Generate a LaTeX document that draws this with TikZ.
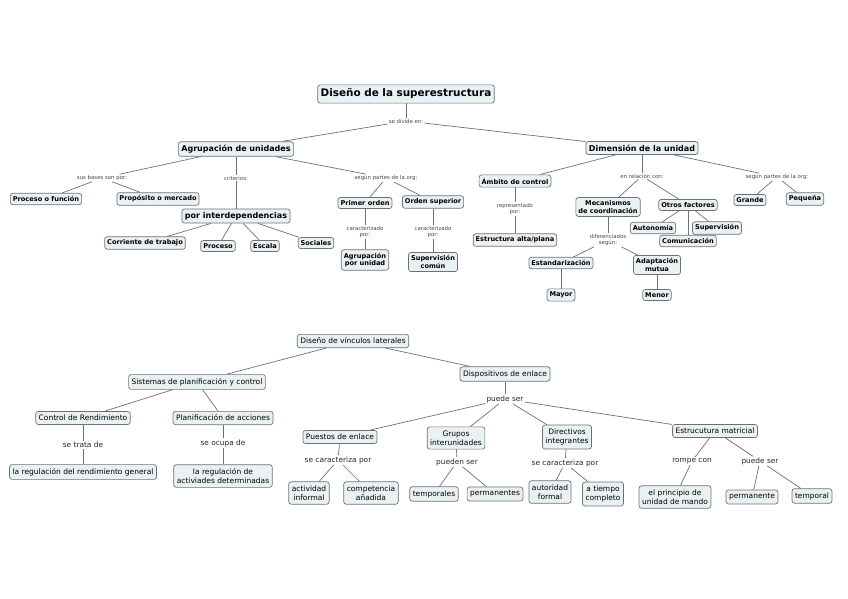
\documentclass[tikz,border=0pt]{standalone}
\usepackage{fontspec}
\setmainfont{DejaVu Sans}
\definecolor{boxfill}{RGB}{234,241,244}
\definecolor{boxline}{RGB}{112,112,112}
\definecolor{linktext}{RGB}{70,70,70}
\begin{document}
\begin{tikzpicture}[
    x=1pt, y=-1pt,
    concept/.style={draw=boxline, fill=boxfill, rounded corners=2.5pt, line width=0.7pt, align=center, inner xsep=3pt},
    title/.style={concept, font=\bfseries\fontsize{10.4}{11.5}\selectfont, inner ysep=4pt},
    topic/.style={concept, font=\bfseries\fontsize{8}{9.4}\selectfont, inner ysep=3.2pt},
    leaf/.style={concept, font=\bfseries\fontsize{6.6}{7.8}\selectfont, inner ysep=3pt, inner xsep=2.5pt},
    plain/.style={concept, font=\fontsize{7.5}{9.4}\selectfont, inner ysep=3.6pt},
    link/.style={font=\fontsize{5.4}{6.2}\selectfont, text=linktext, align=center, inner sep=1pt},
    linkb/.style={font=\fontsize{7.4}{8.4}\selectfont, text=black!85, align=center, inner sep=1pt},
    edge/.style={draw=boxline, line width=0.7pt}
]
\useasboundingbox (0,0) rectangle (848,599);

% Superestructura (top map)
\node[title] (super) at (406,94) {Diseño de la superestructura};
\node[link] (divide) at (406,121) {se divide en:};
\node[topic] (agrup) at (236,149) {Agrupación de unidades};
\node[topic] (dimen) at (642,148) {Dimensión de la unidad};

\node[link] (bases) at (102,178) {sus bases son por:};
\node[link] (criterios) at (236,178) {criterios:};
\node[link] (partesA) at (386,178) {según partes de la org:};
\node[leaf] (funcion) at (46,199) {Proceso o función};
\node[leaf] (mercado) at (158,199) {Propósito o mercado};
\node[topic] (interdep) at (236,216) {por interdependencias};
\node[leaf] (corriente) at (145,243) {Corriente de trabajo};
\node[leaf] (proceso) at (218,246) {Proceso};
\node[leaf] (escala) at (265,246) {Escala};
\node[leaf] (sociales) at (316,243) {Sociales};
\node[leaf] (primer) at (365,203) {Primer orden};
\node[leaf] (superior) at (433,202) {Orden superior};
\node[link] (caractA) at (365,232) {caracterizado\\por:};
\node[link] (caractB) at (433,232) {caracterizado\\por:};
\node[leaf] (porunidad) at (365,260) {Agrupación\\por unidad};
\node[leaf] (comun) at (433,262) {Supervisión\\común};

\node[leaf] (ambito) at (515,181) {Ámbito de control};
\node[link] (repres) at (515,209) {representado\\por:};
\node[leaf] (altaplana) at (515,240) {Estructura alta/plana};
\node[link] (relacion) at (642,176) {en relación con:};
\node[link] (partesD) at (777,177) {según partes de la org:};
\node[leaf] (grande) at (750,200) {Grande};
\node[leaf] (pequena) at (805,199) {Pequeña};
\node[leaf] (mecanismos) at (608,207) {Mecanismos\\de coordinación};
\node[leaf] (otros) at (688,205) {Otros factores};
\node[leaf] (autonomia) at (653,228) {Autonomía};
\node[leaf] (supervision) at (717,228) {Supervisión};
\node[leaf] (comunicacion) at (688,241) {Comunicación};
\node[link] (difer) at (608,240) {diferenciados\\según:};
\node[leaf] (estandar) at (561,263) {Estandarización};
\node[leaf] (adaptacion) at (657,265) {Adaptación\\mutua};
\node[leaf] (mayor) at (561,295) {Mayor};
\node[leaf] (menor) at (657,295) {Menor};

\draw[edge] (super) -- (divide);
\draw[edge] (divide) -- (agrup);
\draw[edge] (divide) -- (dimen);
\draw[edge] (agrup) -- (bases);
\draw[edge] (bases) -- (funcion);
\draw[edge] (bases) -- (mercado);
\draw[edge] (agrup) -- (criterios);
\draw[edge] (criterios) -- (interdep);
\foreach \n in {corriente, proceso, escala, sociales}
    \draw[edge] (interdep) -- (\n);
\draw[edge] (agrup) -- (partesA);
\draw[edge] (partesA) -- (primer);
\draw[edge] (partesA) -- (superior);
\draw[edge] (primer) -- (caractA);
\draw[edge] (caractA) -- (porunidad);
\draw[edge] (superior) -- (caractB);
\draw[edge] (caractB) -- (comun);

\draw[edge] (dimen) -- (ambito);
\draw[edge] (ambito) -- (repres);
\draw[edge] (repres) -- (altaplana);
\draw[edge] (dimen) -- (relacion);
\draw[edge] (relacion) -- (mecanismos);
\draw[edge] (relacion) -- (otros);
\draw[edge] (dimen) -- (partesD);
\draw[edge] (partesD) -- (grande);
\draw[edge] (partesD) -- (pequena);
\foreach \n in {autonomia, supervision, comunicacion}
    \draw[edge] (otros) -- (\n);
\draw[edge] (mecanismos) -- (difer);
\draw[edge] (difer) -- (estandar);
\draw[edge] (difer) -- (adaptacion);
\draw[edge] (estandar) -- (mayor);
\draw[edge] (adaptacion) -- (menor);

% Vinculos laterales (bottom map)
\node[plain] (vinculos) at (353,341) {Diseño de vínculos laterales};
\node[plain] (sistemas) at (197,382) {Sistemas de planificación y control};
\node[plain] (dispositivos) at (505,374) {Dispositivos de enlace};
\node[plain] (rendimiento) at (83,418) {Control de Rendimiento};
\node[plain] (acciones) at (223,418) {Planificación de acciones};
\node[linkb] (trata) at (83,445) {se trata de};
\node[linkb] (ocupa) at (223,443) {se ocupa de};
\node[plain] (general) at (83,472) {la regulación del rendimiento general};
\node[plain] (determ) at (223,476) {la regulación de\\activiades determinadas};

\node[linkb] (puede) at (505,399) {puede ser};
\node[plain] (puestos) at (340,437) {Puestos de enlace};
\node[plain] (grupos) at (456,438) {Grupos\\interunidades};
\node[plain] (directivos) at (567,437) {Directivos\\integrantes};
\node[plain] (matricial) at (715,431) {Estrucutura matricial};
\node[linkb] (caractP) at (338,460) {se caracteriza por};
\node[linkb] (pueden) at (457,462) {pueden ser};
\node[linkb] (caractD) at (565,463) {se caracteriza por};
\node[linkb] (rompe) at (692,461) {rompe con};
\node[linkb] (puedeM) at (760,461) {puede ser};
\node[plain] (informal) at (309,493) {actividad\\informal};
\node[plain] (anadida) at (371,493) {competencia\\añadida};
\node[plain] (temporales) at (434,494) {temporales};
\node[plain] (permanentes) at (495,494) {permanentes};
\node[plain] (autoridad) at (550,492) {autoridad\\formal};
\node[plain] (completo) at (603,494) {a tiempo\\completo};
\node[plain] (mando) at (675,497) {el principio de\\unidad de mando};
\node[plain] (permanente) at (752,497) {permanente};
\node[plain] (temporal) at (812,496) {temporal};

\draw[edge] (vinculos) -- (sistemas);
\draw[edge] (vinculos) -- (dispositivos);
\draw[edge] (sistemas) -- (rendimiento);
\draw[edge] (sistemas) -- (acciones);
\draw[edge] (rendimiento) -- (trata);
\draw[edge] (trata) -- (general);
\draw[edge] (acciones) -- (ocupa);
\draw[edge] (ocupa) -- (determ);
\draw[edge] (dispositivos) -- (puede);
\foreach \n in {puestos, grupos, directivos, matricial}
    \draw[edge] (puede) -- (\n);
\draw[edge] (puestos) -- (caractP);
\draw[edge] (caractP) -- (informal);
\draw[edge] (caractP) -- (anadida);
\draw[edge] (grupos) -- (pueden);
\draw[edge] (pueden) -- (temporales);
\draw[edge] (pueden) -- (permanentes);
\draw[edge] (directivos) -- (caractD);
\draw[edge] (caractD) -- (autoridad);
\draw[edge] (caractD) -- (completo);
\draw[edge] (matricial) -- (rompe);
\draw[edge] (rompe) -- (mando);
\draw[edge] (matricial) -- (puedeM);
\draw[edge] (puedeM) -- (permanente);
\draw[edge] (puedeM) -- (temporal);

\end{tikzpicture}
\end{document}
